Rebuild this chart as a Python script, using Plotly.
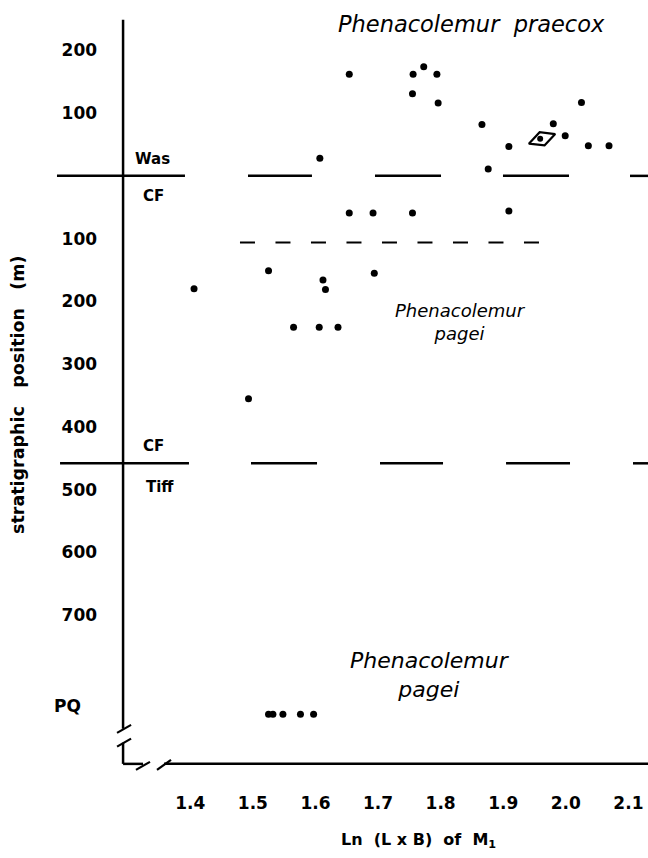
import plotly.graph_objects as go

# ---------------- data ----------------
# Ln(L x B) of M1 vs stratigraphic position (m); Was (above 0) positive, CF/Tiff (below 0) negative
praecox_x = [1.654, 1.756, 1.773, 1.794, 1.755, 1.796, 1.607, 1.866, 2.025, 1.980, 1.999, 1.909, 2.036, 2.069, 1.876]
praecox_y = [162, 162, 174, 162, 131, 116, 28, 82, 117, 83, 64, 47, 48, 48, 11]

pagei_x = [1.654, 1.692, 1.755, 1.909, 1.525, 1.406, 1.612, 1.616, 1.694, 1.565, 1.606, 1.636, 1.493]
pagei_y = [-59, -59, -59, -56, -151, -180, -166, -181, -155, -241, -241, -241, -355]

pq_x = [1.525, 1.532, 1.548, 1.576, 1.597]
pq_y = [-858, -858, -858, -858, -858]

special_x = [1.962]
special_y = [59]
special_dot_x = [1.959]

y_tickvals = [200, 100, -100, -200, -300, -400, -500, -600, -700]
y_ticktext = ["200", "100", "100", "200", "300", "400", "500", "600", "700"]
x_tickvals = [1.4, 1.5, 1.6, 1.7, 1.8, 1.9, 2.0, 2.1]
x_ticktext = ["1.4", "1.5", "1.6", "1.7", "1.8", "1.9", "2.0", "2.1"]

boundary_was_cf = 0
boundary_cf_tiff = -458
inner_boundary = -106

FONT = "DejaVu Sans"

fig = go.Figure()

dot = dict(color="black", size=7)
fig.add_trace(go.Scatter(x=praecox_x, y=praecox_y, mode="markers", marker=dot, showlegend=False))
fig.add_trace(go.Scatter(x=pagei_x, y=pagei_y, mode="markers", marker=dot, showlegend=False))
fig.add_trace(go.Scatter(x=pq_x, y=pq_y, mode="markers", marker=dot, showlegend=False))
fig.add_trace(go.Scatter(x=special_x, y=special_y, mode="markers",
                         marker=dict(symbol="diamond-wide-open", size=20, angle=-20,
                                     color="black", line=dict(color="black", width=2.2)),
                         showlegend=False))
fig.add_trace(go.Scatter(x=special_dot_x, y=special_y, mode="markers",
                         marker=dict(color="black", size=6), showlegend=False))

shapes = []
def seg(x0, y0, x1, y1, w=2.5, dash=None):
    d = dict(type="line", xref="x", yref="y", x0=x0, y0=y0, x1=x1, y1=y1,
             line=dict(color="black", width=w))
    if dash:
        d["line"]["dash"] = dash
    shapes.append(d)

# formation boundaries (long dashes)
for a, b in [(1.187, 1.3915), (1.4922, 1.5944), (1.6951, 1.8006), (1.8996, 2.0051), (2.1025, 2.15)]:
    seg(a, boundary_was_cf, b, boundary_was_cf)
for a, b in [(1.1919, 1.3979), (1.4970, 1.6025), (1.7031, 1.8038), (1.9045, 2.0067), (2.1073, 2.15)]:
    seg(a, boundary_cf_tiff, b, boundary_cf_tiff)
# inner short-dashed line
seg(1.4794, inner_boundary, 1.958, inner_boundary, w=2, dash="15px,20.5px")

# axes drawn with breaks
X0 = 1.2926
YB = -936.9
seg(X0, 248.6, X0, -881.1)
seg(X0, -903.1, X0, YB)
seg(1.2830, -887.5, 1.3054, -874.8, w=2.2)
seg(1.2830, -909.5, 1.3054, -896.7, w=2.2)
seg(X0, YB, 1.3245, YB)
seg(1.358, YB, 2.15, YB)
seg(1.3132, -946.5, 1.3356, -933.7, w=2.2)
seg(1.3468, -946.5, 1.3692, -930.5, w=2.2)

fig.update_layout(shapes=shapes)

ann = []
def label(x, y, text, size=15, italic=False, bold=True, xref="x", yref="y", angle=0, align="center"):
    ann.append(dict(x=x, y=y, xref=xref, yref=yref, text=text, showarrow=False,
                    textangle=angle, align=align, xanchor="center", yanchor="middle",
                    font=dict(family=FONT, size=size, color="black",
                              style="italic" if italic else "normal",
                              weight="bold" if bold else "normal")))

label(1.3396, 27, "Was")
label(1.3412, -32, "CF")
label(1.3412, -430, "CF")
label(1.3516, -495, "Tiff")
label(1.2046, -844, "PQ", size=17)

label(1.850, 242, "Phenacolemur\u00a0 praecox", size=22.5, italic=True, bold=False)
label(1.831, -233, "Phenacolemur<br>pagei", size=18, italic=True, bold=False)
label(1.783, -795, "Phenacolemur<br>pagei", size=22, italic=True, bold=False)

label(0.628, -0.078, "Ln\u00a0 (L x B)\u00a0 of\u00a0 M<sub>1</sub>", size=16, xref="paper", yref="paper")
label(-0.0194, 0.50, "stratigraphic\u00a0\u00a0 position\u00a0\u00a0 (m)", size=17.5,
      xref="paper", yref="paper", angle=-90)

fig.update_layout(annotations=ann)

fig.update_layout(
    width=648, height=858,
    margin=dict(l=30, r=0, t=10, b=78),
    paper_bgcolor="white", plot_bgcolor="white",
    font=dict(family=FONT, color="black"),
    xaxis=dict(range=[1.1439, 2.1313], showgrid=False, zeroline=False, showline=False,
               tickvals=x_tickvals, ticktext=x_ticktext, ticks="outside", ticklen=8,
               tickcolor="rgba(0,0,0,0)",
               tickfont=dict(family=FONT, size=17, color="black", weight="bold")),
    yaxis=dict(range=[-962.6, 264.3], showgrid=False, zeroline=False, showline=False,
               anchor="free", position=0.1497,
               tickvals=y_tickvals, ticktext=y_ticktext, ticks="outside", ticklen=22,
               tickcolor="rgba(0,0,0,0)",
               tickfont=dict(family=FONT, size=17, color="black", weight="bold")),
)

fig.write_html("out.html")
